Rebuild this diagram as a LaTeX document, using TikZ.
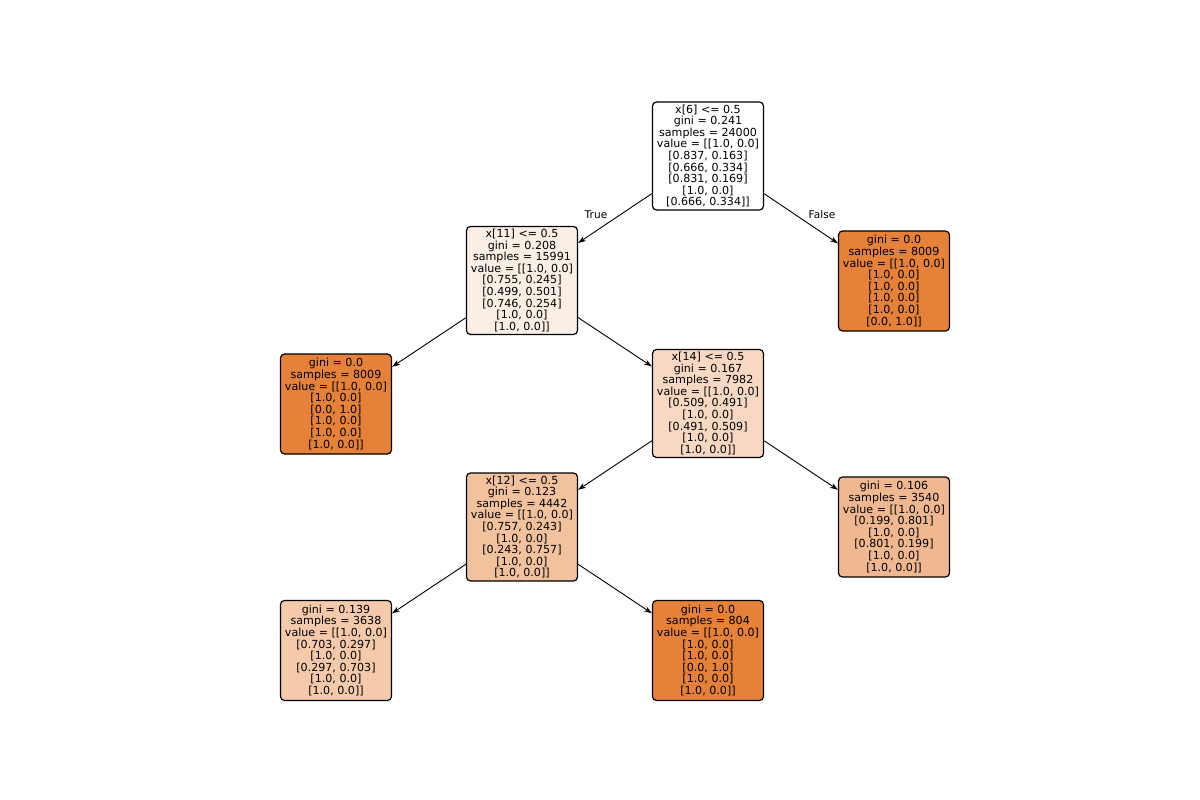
\documentclass[tikz,border=0pt]{standalone}
\usepackage{fontspec}
\setmainfont{DejaVu Sans}
\usetikzlibrary{arrows.meta}
% node fills, by impurity
\definecolor{imppure}{RGB}{229,129,57}
\definecolor{impa}{RGB}{251,238,228}
\definecolor{impb}{RGB}{247,216,194}
\definecolor{impc}{RGB}{242,193,158}
\definecolor{impd}{RGB}{240,184,144}
\definecolor{impe}{RGB}{244,202,171}
\tikzset{
  treenode/.style={draw, rounded corners=4pt, line width=1.2pt, align=center,
    minimum width=111pt, inner xsep=3pt, inner ysep=2pt,
    font=\fontsize{11.1pt}{11.6pt}\selectfont},
  splitnode/.style={treenode, minimum height=108pt},
  leafnode/.style={treenode, minimum height=100pt},
  branch/.style={-{Stealth[length=8pt,width=5.5pt]}, line width=0.9pt},
  branchlabel/.style={font=\fontsize{10.6pt}{12pt}\selectfont}
}
\begin{document}
\begin{tikzpicture}[x=1pt, y=-1pt]
  \useasboundingbox (0,0) rectangle (1200,800);
  % level 0
  \node[splitnode, fill=white] (root) at (708,156)
    {x[6] <= 0.5\\ gini = 0.241\\ samples = 24000\\ value = [[1.0, 0.0]\\
     {}[0.837, 0.163]\\ {}[0.666, 0.334]\\ {}[0.831, 0.169]\\ {}[1.0, 0.0]\\ {}[0.666, 0.334]]};
  % level 1
  \node[splitnode, fill=impa] (x11) at (522,280.5)
    {x[11] <= 0.5\\ gini = 0.208\\ samples = 15991\\ value = [[1.0, 0.0]\\
     {}[0.755, 0.245]\\ {}[0.499, 0.501]\\ {}[0.746, 0.254]\\ {}[1.0, 0.0]\\ {}[1.0, 0.0]]};
  \node[leafnode, fill=imppure] (leafR) at (894,281)
    {gini = 0.0\\ samples = 8009\\ value = [[1.0, 0.0]\\
     {}[1.0, 0.0]\\ {}[1.0, 0.0]\\ {}[1.0, 0.0]\\ {}[1.0, 0.0]\\ {}[0.0, 1.0]]};
  % level 2
  \node[leafnode, fill=imppure] (leafL) at (336,404)
    {gini = 0.0\\ samples = 8009\\ value = [[1.0, 0.0]\\
     {}[1.0, 0.0]\\ {}[0.0, 1.0]\\ {}[1.0, 0.0]\\ {}[1.0, 0.0]\\ {}[1.0, 0.0]]};
  \node[splitnode, fill=impb] (x14) at (708,403.5)
    {x[14] <= 0.5\\ gini = 0.167\\ samples = 7982\\ value = [[1.0, 0.0]\\
     {}[0.509, 0.491]\\ {}[1.0, 0.0]\\ {}[0.491, 0.509]\\ {}[1.0, 0.0]\\ {}[1.0, 0.0]]};
  % level 3
  \node[splitnode, fill=impc] (x12) at (522,527)
    {x[12] <= 0.5\\ gini = 0.123\\ samples = 4442\\ value = [[1.0, 0.0]\\
     {}[0.757, 0.243]\\ {}[1.0, 0.0]\\ {}[0.243, 0.757]\\ {}[1.0, 0.0]\\ {}[1.0, 0.0]]};
  \node[leafnode, fill=impd] (leaf3540) at (894,527)
    {gini = 0.106\\ samples = 3540\\ value = [[1.0, 0.0]\\
     {}[0.199, 0.801]\\ {}[1.0, 0.0]\\ {}[0.801, 0.199]\\ {}[1.0, 0.0]\\ {}[1.0, 0.0]]};
  % level 4
  \node[leafnode, fill=impe] (leaf3638) at (336,650.5)
    {gini = 0.139\\ samples = 3638\\ value = [[1.0, 0.0]\\
     {}[0.703, 0.297]\\ {}[1.0, 0.0]\\ {}[0.297, 0.703]\\ {}[1.0, 0.0]\\ {}[1.0, 0.0]]};
  \node[leafnode, fill=imppure] (leaf804) at (708,650.5)
    {gini = 0.0\\ samples = 804\\ value = [[1.0, 0.0]\\
     {}[1.0, 0.0]\\ {}[1.0, 0.0]\\ {}[0.0, 1.0]\\ {}[1.0, 0.0]\\ {}[1.0, 0.0]]};
  % branches
  \draw[branch] (root) -- (x11);
  \draw[branch] (root) -- (leafR);
  \draw[branch] (x11) -- (leafL);
  \draw[branch] (x11) -- (x14);
  \draw[branch] (x14) -- (x12);
  \draw[branch] (x14) -- (leaf3540);
  \draw[branch] (x12) -- (leaf3638);
  \draw[branch] (x12) -- (leaf804);
  \node[branchlabel] (lbltrue) at (596,215) {True};
  \node[branchlabel] (lblfalse) at (822,215) {False};
\end{tikzpicture}
\end{document}
